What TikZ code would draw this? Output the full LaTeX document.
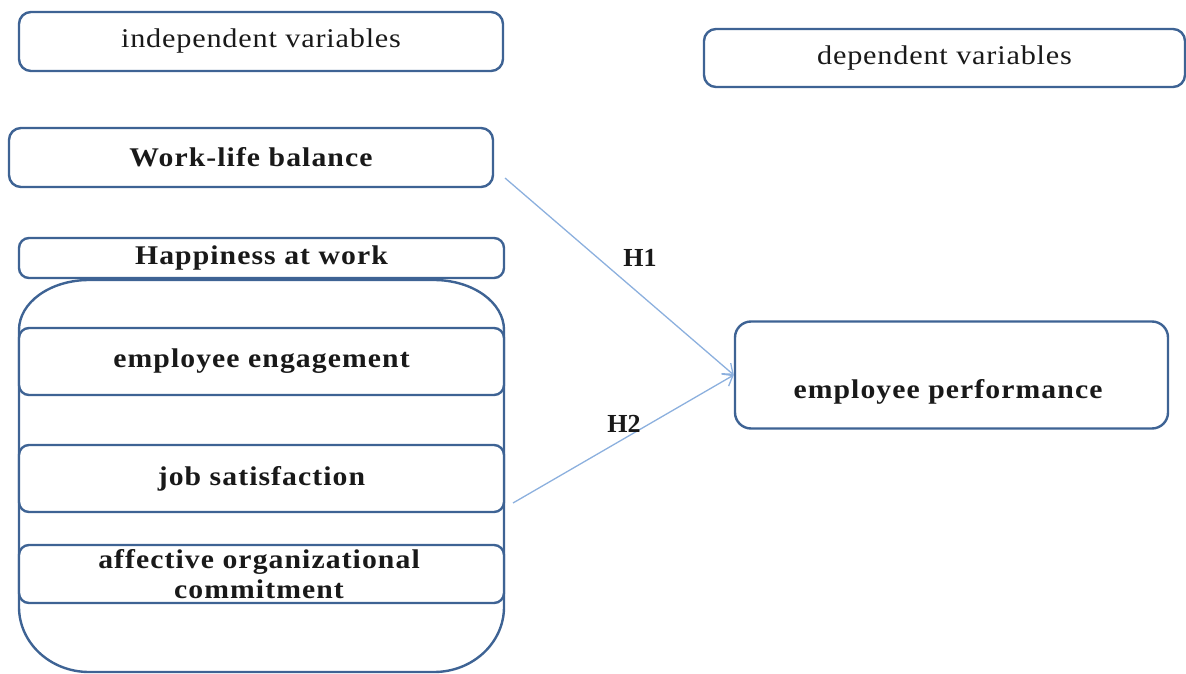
\documentclass[tikz,border=0pt]{standalone}
\usepackage{fontspec}
\setmainfont{Liberation Serif}
\usetikzlibrary{arrows.meta}
\definecolor{boxblue}{RGB}{62,99,148}
\definecolor{arrowblue}{RGB}{140,176,222}
\definecolor{txt}{RGB}{25,25,25}
\tikzset{
  box/.style={draw=boxblue, line width=2.4pt, rounded corners=12pt, fill=white, inner sep=0pt, text=txt},
  inbox/.style={box, rounded corners=10pt},
  regtxt/.style={font=\fontsize{27}{30}\selectfont\addfontfeatures{FakeStretch=1.12,LetterSpace=3}, text=txt},
  boldtxt/.style={font=\fontsize{27}{31}\selectfont\bfseries\addfontfeatures{FakeStretch=1.1,LetterSpace=4}, text=txt, align=center},
  link/.style={draw=arrowblue, line width=1.3pt},
  tip/.style={-{Straight Barb[length=9pt,width=14pt,line width=1.3pt]}}
}
\begin{document}
\begin{tikzpicture}[x=1pt,y=-1pt]
\useasboundingbox (0,0) rectangle (1186,674);
% headers
\node[box, minimum width=484pt, minimum height=59pt, regtxt] (indep) at (261,41.5) {independent variables};
\node[box, minimum width=481pt, minimum height=58pt, regtxt] (dep) at (944.5,58) {dependent variables};
% work-life balance
\node[box, minimum width=484pt, minimum height=59pt, boldtxt] (wlb) at (251,157.5) {Work-life balance};
% happiness header
\node[inbox, minimum width=485pt, minimum height=40pt, boldtxt] (haw) at (261.5,258) {Happiness at work};
% container
\draw[draw=boxblue, line width=2.4pt] (19,330)
  arc[start angle=180, end angle=270, x radius=70, y radius=50] -- (434,280)
  arc[start angle=270, end angle=360, x radius=70, y radius=50] -- (504,607)
  arc[start angle=0, end angle=90, x radius=70, y radius=65] -- (89,672)
  arc[start angle=90, end angle=180, x radius=70, y radius=65] -- cycle;
% inner boxes
\node[inbox, minimum width=485pt, minimum height=67pt, boldtxt] (eng) at (261.5,361.5) {employee engagement};
\node[inbox, minimum width=485pt, minimum height=67pt, boldtxt] (sat) at (261.5,478.5) {job satisfaction};
\node[inbox, minimum width=485pt, minimum height=58pt] (aoc) at (261.5,574) {};
\node[boldtxt, inner sep=0pt] (aoctxt) at (259,574) {affective organizational\\[-1pt]commitment};
% outcome
\node[box, minimum width=433pt, minimum height=107pt, rounded corners=16pt] (perf) at (951.5,375) {};
\node[boldtxt, inner sep=0pt] (perftxt) at (948,392) {employee performance};
% connectors
\coordinate (h1s) at (505,178);
\coordinate (h2s) at (513,503);
\draw[link, tip] (h1s) -- (perf.west);
\draw[link, tip] (h2s) -- (perf.west);
\node[font=\fontsize{26}{28}\selectfont\bfseries, text=txt] (h1) at (640,258) {H1};
\node[font=\fontsize{26}{28}\selectfont\bfseries, text=txt] (h2) at (624,424) {H2};
\end{tikzpicture}
\end{document}
